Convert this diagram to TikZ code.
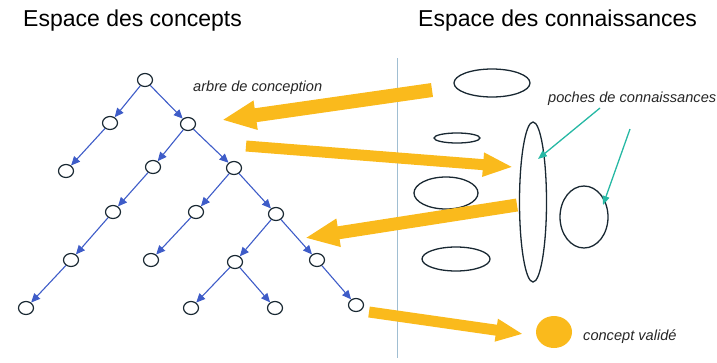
\documentclass[tikz,border=0pt]{standalone}
\usepackage{fontspec}
\setmainfont{Liberation Sans}
\usetikzlibrary{arrows.meta,shapes.geometric}
\definecolor{edgeblue}{RGB}{62,92,200}
\definecolor{nodeline}{RGB}{25,40,50}
\definecolor{bigorange}{RGB}{250,186,28}
\definecolor{teal}{RGB}{38,184,164}
\definecolor{divider}{RGB}{160,190,210}
\tikzset{
  cnode/.style={ellipse,draw=nodeline,line width=1.2pt,minimum width=15pt,minimum height=13pt,inner sep=0pt},
  edge/.style={draw=edgeblue,line width=1.1pt,-{Triangle[length=9pt,width=8pt]}},
  pocket/.style={ellipse,draw=nodeline,line width=1.3pt,inner sep=0pt},
  bigarrow/.style={draw=bigorange,line cap=butt},
  tealarrow/.style={draw=teal,line width=1.3pt,-{Triangle[length=9pt,width=7pt]}},
  title/.style={font=\fontsize{23}{26}\selectfont,anchor=base west,inner sep=0pt},
  label/.style={font=\fontsize{14.6}{17}\selectfont\itshape,anchor=base west,inner sep=0pt,text=black!85}
}
\begin{document}
\begin{tikzpicture}[x=1pt,y=-1pt]
\useasboundingbox (0,0) rectangle (717,362);
% titles
\node[title] (t1) at (23,26) {Espace des concepts};
\node[title] (t2) at (418,26) {Espace des connaissances};
% divider
\coordinate (dtop) at (397.5,58);
\coordinate (dbot) at (397.5,358);
\draw[divider,line width=0.9pt] (dtop) -- (dbot);
% tree nodes
\node[cnode] (r)  at (145,80) {};
\node[cnode] (a1) at (110,123) {};
\node[cnode] (a2) at (188,124) {};
\node[cnode] (b1) at (66,171) {};
\node[cnode] (b2) at (153,167) {};
\node[cnode] (b3) at (234,168) {};
\node[cnode] (c1) at (113,212) {};
\node[cnode] (c2) at (196,212) {};
\node[cnode] (c3) at (276,214) {};
\node[cnode] (d1) at (71,260) {};
\node[cnode] (d2) at (151,260) {};
\node[cnode] (d3) at (235,262) {};
\node[cnode] (d4) at (317,260) {};
\node[cnode] (e1) at (26,308) {};
\node[cnode] (e2) at (191,308) {};
\node[cnode] (e3) at (275,308) {};
\node[cnode] (e4) at (356,305) {};
% tree edges
\draw[edge] (r) -- (a1);
\draw[edge] (r) -- (a2);
\draw[edge] (a1) -- (b1);
\draw[edge] (a2) -- (b2);
\draw[edge] (a2) -- (b3);
\draw[edge] (b2) -- (c1);
\draw[edge] (b3) -- (c2);
\draw[edge] (b3) -- (c3);
\draw[edge] (c1) -- (d1);
\draw[edge] (c2) -- (d2);
\draw[edge] (c3) -- (d3);
\draw[edge] (c3) -- (d4);
\draw[edge] (d1) -- (e1);
\draw[edge] (d3) -- (e2);
\draw[edge] (d3) -- (e3);
\draw[edge] (d4) -- (e4);
% knowledge pockets
\node[pocket,minimum width=76pt,minimum height=28pt] (p1) at (492,83) {};
\node[pocket,minimum width=46pt,minimum height=10pt] (p2) at (457,138) {};
\node[pocket,minimum width=64pt,minimum height=32pt] (p3) at (446,193) {};
\node[pocket,minimum width=68pt,minimum height=24pt] (p4) at (456,259) {};
\node[pocket,minimum width=27pt,minimum height=160pt] (p5) at (533,202) {};
\node[pocket,minimum width=48pt,minimum height=62pt] (p6) at (584,217) {};
\node[ellipse,fill=bigorange,minimum width=36pt,minimum height=32pt,inner sep=0pt] (ok) at (554,332) {};
% labels
\node[label] (l1) at (193,91) {arbre de conception};
\node[label] (l2) at (548,102) {poches de connaissances};
\node[label] (l3) at (583,340) {concept validé};
% big orange arrows
\coordinate (o1s) at (432,90);   \coordinate (o1e) at (222,120);
\coordinate (o2s) at (246,146);  \coordinate (o2e) at (513,167);
\coordinate (o3s) at (517,205);  \coordinate (o3e) at (305,238);
\coordinate (o4s) at (369,312);  \coordinate (o4e) at (523,334);
\draw[bigarrow,line width=14pt,-{Triangle[length=34pt,width=27pt]}] (o1s) -- (o1e);
\draw[bigarrow,line width=11pt,-{Triangle[length=30pt,width=22pt]}] (o2s) -- (o2e);
\draw[bigarrow,line width=13pt,-{Triangle[length=34pt,width=26pt]}] (o3s) -- (o3e);
\draw[bigarrow,line width=11pt,-{Triangle[length=27pt,width=21pt]}] (o4s) -- (o4e);
% teal arrows
\coordinate (g1s) at (600,108); \coordinate (g1e) at (538,159);
\coordinate (g2s) at (630,129); \coordinate (g2e) at (603,205);
\draw[tealarrow] (g1s) -- (g1e);
\draw[tealarrow] (g2s) -- (g2e);
\end{tikzpicture}
\end{document}
